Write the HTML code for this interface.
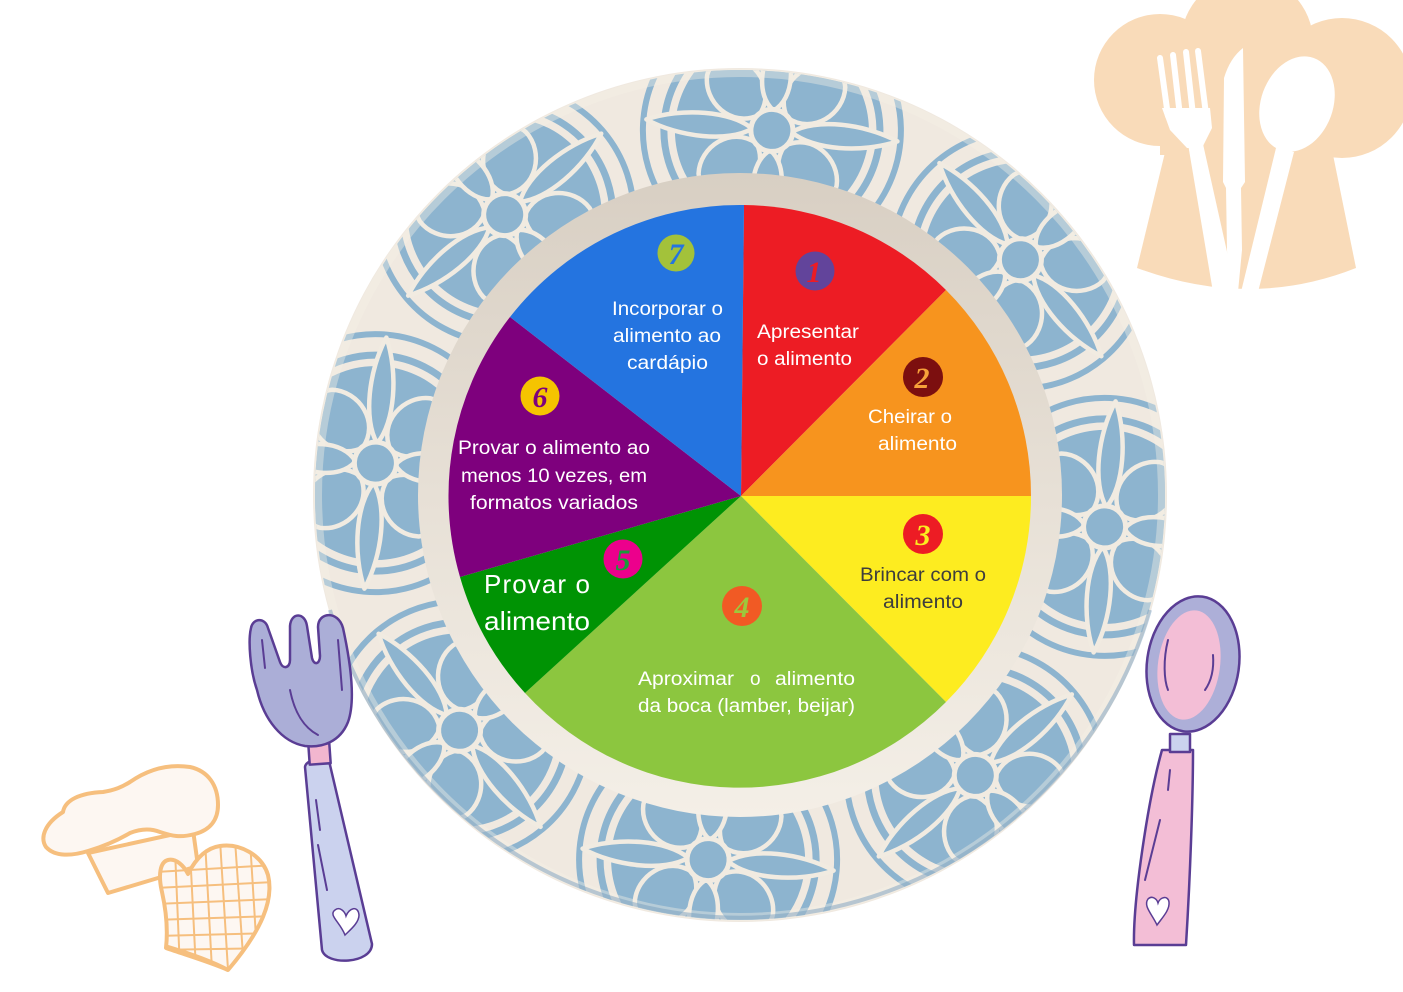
<!DOCTYPE html>
<html>
<head>
<meta charset="utf-8">
<style>
html,body{margin:0;padding:0;background:#fff;}
svg{display:block;}
.t{font-family:"Liberation Sans",sans-serif;font-size:19px;fill:#fff;}
.n{font-family:"Liberation Serif",serif;font-style:italic;font-weight:bold;font-size:30px;text-anchor:middle;}
</style>
</head>
<body>
<svg width="1403" height="992" viewBox="0 0 1403 992" xmlns="http://www.w3.org/2000/svg">
<defs>
  <clipPath id="plateClip"><circle cx="740" cy="495" r="425"/></clipPath>
  <linearGradient id="rim" x1="0" y1="0" x2="0" y2="1">
    <stop offset="0" stop-color="#d8cfc3"/>
    <stop offset="0.5" stop-color="#e7e0d6"/>
    <stop offset="1" stop-color="#f4efe7"/>
  </linearGradient>
  <g id="rings">
    <circle r="108" fill="none" stroke="#8db4cf" stroke-width="7"/>
    <circle r="129" fill="none" stroke="#8db4cf" stroke-width="6"/>
  </g>
  <g id="fl">
    <circle r="97" fill="#8db4cf"/>
    <g fill="#8db4cf" stroke="#f1ebe1" stroke-width="4.5" stroke-linejoin="round">
      <path d="M20,0 C28,-30 66,-34 84,-14 C90,-6 90,6 84,14 C66,34 28,30 20,0Z" transform="rotate(45)"/>
      <path d="M20,0 C28,-30 66,-34 84,-14 C90,-6 90,6 84,14 C66,34 28,30 20,0Z" transform="rotate(135)"/>
      <path d="M20,0 C28,-30 66,-34 84,-14 C90,-6 90,6 84,14 C66,34 28,30 20,0Z" transform="rotate(225)"/>
      <path d="M20,0 C28,-30 66,-34 84,-14 C90,-6 90,6 84,14 C66,34 28,30 20,0Z" transform="rotate(315)"/>
      <path d="M20,0 C34,-20 72,-18 96,0 C72,18 34,20 20,0Z"/>
      <path d="M20,0 C34,-20 72,-18 96,0 C72,18 34,20 20,0Z" transform="rotate(180)"/>
      <path d="M20,0 C42,-16 92,-15 126,0 C92,15 42,16 20,0Z" transform="rotate(90)"/>
      <path d="M20,0 C42,-16 92,-15 126,0 C92,15 42,16 20,0Z" transform="rotate(270)"/>
    </g>
    <circle r="21" fill="#8db4cf" stroke="#f1ebe1" stroke-width="5"/>
  </g>
  <clipPath id="gloveClip">
    <path d="M162,892 C158,875 160,862 168,860 C176,858 184,866 188,874 C196,858 206,848 220,846 C240,843 262,855 268,875 C274,900 262,930 228,970 C210,962 186,955 166,948 C168,930 166,910 162,892Z"/>
  </clipPath>
</defs>

<!-- top right chef hat logo -->
<g fill="#f9dbb9">
  <circle cx="1160" cy="80" r="66"/>
  <circle cx="1247" cy="42" r="66"/>
  <circle cx="1342" cy="88" r="70"/>
  <rect x="1160" y="40" width="185" height="115"/>
  <path d="M1168,140 L1330,140 L1356,268 Q1250,310 1137,268 Z"/>
</g>
<g fill="#fff">
  <g stroke="#fff" stroke-width="6" stroke-linecap="round">
    <line x1="1160" y1="58" x2="1168" y2="116"/>
    <line x1="1173" y1="55" x2="1180" y2="116"/>
    <line x1="1186" y1="52" x2="1193" y2="115"/>
    <line x1="1198" y1="51" x2="1206" y2="114"/>
  </g>
  <path d="M1162,108 L1210,108 L1212,128 L1202,148 L1187,148 L1170,130 Z"/>
  <path d="M1188,144 L1203,144 L1236,292 L1213,292 Z"/>
  <path d="M1224,78 Q1230,58 1243,48 L1245,182 L1241,188 L1242,250 L1238,292 L1229,292 L1227,250 L1226,188 L1223,182 Z"/>
  <ellipse cx="1297" cy="104" rx="36" ry="49" transform="rotate(20 1297 104)"/>
  <path d="M1276,148 L1294,152 L1258,292 L1241,292 Z"/>
</g>

<!-- plate -->
<circle cx="740" cy="495" r="427" fill="#f0e9e0"/>
<g clip-path="url(#plateClip)">
  <use href="#rings" transform="translate(1104.6,526.9) rotate(5)"/>
  <use href="#rings" transform="translate(975.3,775.4) rotate(50)"/>
  <use href="#rings" transform="translate(708.1,859.6) rotate(95)"/>
  <use href="#rings" transform="translate(459.6,730.3) rotate(140)"/>
  <use href="#rings" transform="translate(375.4,463.1) rotate(185)"/>
  <use href="#rings" transform="translate(504.7,214.6) rotate(230)"/>
  <use href="#rings" transform="translate(771.9,130.4) rotate(275)"/>
  <use href="#rings" transform="translate(1020.4,259.7) rotate(320)"/>
  <use href="#fl" transform="translate(1104.6,526.9) rotate(5)"/>
  <use href="#fl" transform="translate(975.3,775.4) rotate(50)"/>
  <use href="#fl" transform="translate(708.1,859.6) rotate(95)"/>
  <use href="#fl" transform="translate(459.6,730.3) rotate(140)"/>
  <use href="#fl" transform="translate(375.4,463.1) rotate(185)"/>
  <use href="#fl" transform="translate(504.7,214.6) rotate(230)"/>
  <use href="#fl" transform="translate(771.9,130.4) rotate(275)"/>
  <use href="#fl" transform="translate(1020.4,259.7) rotate(320)"/>
</g>
<circle cx="740" cy="495" r="422" fill="none" stroke="#f4efe7" stroke-opacity="0.4" stroke-width="8"/>
<path d="M330,610 A427,427 0 0,0 1150,610" fill="none" stroke="#6f98bd" stroke-opacity="0.45" stroke-width="4"/>
<circle cx="740" cy="495" r="322" fill="url(#rim)"/>

<!-- pie -->
<g>
  <path d="M741,496 L744,205 A291,291 0 0,1 946,290 Z" fill="#ed1c24"/>
  <path d="M741,496 L946,290 A291,291 0 0,1 1031,496 Z" fill="#f7941e"/>
  <path d="M741,496 L1031,496 A291,291 0 0,1 946,702 Z" fill="#fdec20"/>
  <path d="M741,496 L946,702 A291,291 0 0,1 525,693 Z" fill="#8cc63f"/>
  <path d="M741,496 L525,693 A291,291 0 0,1 460,577 Z" fill="#009304"/>
  <path d="M741,496 L460,577 A291,291 0 0,1 510,317 Z" fill="#7e007d"/>
  <path d="M741,496 L510,317 A291,291 0 0,1 744,205 Z" fill="#2474e0"/>
</g>

<!-- badges -->
<circle cx="815" cy="271" r="19.5" fill="#62449b"/>
<text class="n" x="814" y="282" fill="#ec1c24">1</text>
<circle cx="923" cy="377" r="20" fill="#7c0f0f"/>
<text class="n" x="922" y="388" fill="#f7a13a">2</text>
<circle cx="923" cy="534" r="20" fill="#ed1c24"/>
<text class="n" x="923" y="545" fill="#fcec20">3</text>
<circle cx="742" cy="606" r="20" fill="#f15a24"/>
<text class="n" x="742" y="617" fill="#9dc83c">4</text>
<circle cx="623" cy="559" r="19.5" fill="#ec008c"/>
<text class="n" x="623" y="570" fill="#1a9a3a">5</text>
<circle cx="540" cy="396" r="19.5" fill="#f5c400"/>
<text class="n" x="540" y="407" fill="#7e007d">6</text>
<circle cx="676" cy="253" r="18.5" fill="#a3c23a"/>
<text class="n" x="676" y="264" fill="#2474e0">7</text>

<!-- labels -->
<text class="t" x="612" y="315" textLength="111" lengthAdjust="spacingAndGlyphs">Incorporar o</text>
<text class="t" x="613" y="342" textLength="108" lengthAdjust="spacingAndGlyphs">alimento ao</text>
<text class="t" x="627" y="369" textLength="81" lengthAdjust="spacingAndGlyphs">cardápio</text>

<text class="t" x="757" y="338" textLength="102" lengthAdjust="spacingAndGlyphs">Apresentar</text>
<text class="t" x="757" y="365" textLength="95" lengthAdjust="spacingAndGlyphs">o alimento</text>

<text class="t" x="868" y="423" textLength="84" lengthAdjust="spacingAndGlyphs">Cheirar o</text>
<text class="t" x="878" y="450" textLength="79" lengthAdjust="spacingAndGlyphs">alimento</text>

<text class="t" x="860" y="581" textLength="126" lengthAdjust="spacingAndGlyphs" style="fill:#3d3d3d">Brincar com o</text>
<text class="t" x="883" y="608" textLength="80" lengthAdjust="spacingAndGlyphs" style="fill:#3d3d3d">alimento</text>

<text class="t" x="638" y="685" textLength="96" lengthAdjust="spacingAndGlyphs">Aproximar</text>
<text class="t" x="750" y="685">o</text>
<text class="t" x="775" y="685" textLength="80" lengthAdjust="spacingAndGlyphs">alimento</text>
<text class="t" x="638" y="712" textLength="217" lengthAdjust="spacingAndGlyphs">da boca (lamber, beijar)</text>

<text class="t" x="458" y="454" textLength="192" lengthAdjust="spacingAndGlyphs">Provar o alimento ao</text>
<text class="t" x="461" y="482" textLength="186" lengthAdjust="spacingAndGlyphs">menos 10 vezes, em</text>
<text class="t" x="470" y="509" textLength="168" lengthAdjust="spacingAndGlyphs">formatos variados</text>

<text class="t" x="484" y="593" style="font-size:26px" textLength="106" lengthAdjust="spacing">Provar o</text>
<text class="t" x="484" y="630" style="font-size:26px" textLength="106" lengthAdjust="spacingAndGlyphs">alimento</text>

<!-- fork (lower left) -->
<g stroke="#5a3d94" stroke-width="2.5" stroke-linejoin="round">
  <path d="M330,765 C329,757 306,758 305,767 L322,950 C326,966 372,964 372,944 Z" fill="#cbd2ee"/>
  <rect x="309" y="744" width="21" height="20" fill="#f2b6cf" transform="rotate(-4 319 754)"/>
  <path d="M257,690 C250,670 248,640 251,628 C253,618 265,617 268,628 L280,662 C283,670 290,668 290,660 L290,626 C291,612 305,612 307,626 L312,658 C314,666 320,664 320,656 L318,627 C318,612 338,610 343,628 C350,660 356,700 348,722 C340,742 322,748 305,746 C282,742 264,720 257,690 Z" fill="#abaed7"/>
</g>
<g fill="none" stroke="#5a3d94" stroke-width="2" stroke-linecap="round">
  <path d="M262,640 L265,668"/><path d="M338,640 L342,690"/><path d="M290,690 C295,715 305,728 318,735"/>
  <path d="M316,800 L320,830"/><path d="M318,845 L327,890"/>
</g>
<path d="M345,935 C340,922 328,915 335,910 C340,906 345,912 346,916 C349,908 358,905 359,915 C359,923 350,930 345,935 Z" fill="#fff" stroke="#5a3d94" stroke-width="1.5"/>

<!-- spoon (right) -->
<g stroke="#5a3d94" stroke-width="2.5" stroke-linejoin="round">
  <path d="M1162,750 L1193,750 C1193,800 1190,880 1186,945 L1134,945 C1133,900 1148,800 1162,750 Z" fill="#f3bed6"/>
  <rect x="1170" y="734" width="20" height="18" fill="#cbd2ee"/>
  <ellipse cx="1193" cy="664" rx="46" ry="68" fill="#adafd8" transform="rotate(8 1193 664)"/>
  <ellipse cx="1189" cy="665" rx="31" ry="55" fill="#f3bed6" stroke="none" transform="rotate(8 1189 665)"/>
</g>
<g fill="none" stroke="#5a3d94" stroke-width="2" stroke-linecap="round">
  <path d="M1168,640 C1163,660 1164,680 1168,690"/><path d="M1205,690 C1212,680 1214,668 1213,655"/>
  <path d="M1160,820 L1145,880"/><path d="M1170,770 L1168,790"/>
</g>
<path d="M1157,925 C1152,914 1143,906 1148,899 C1152,895 1157,899 1158,903 C1160,897 1168,895 1169,902 C1170,910 1162,918 1157,925 Z" fill="#fff" stroke="#5a3d94" stroke-width="1.5"/>

<!-- chef hat + glove (lower left) -->
<g stroke="#f6bf7e" stroke-width="4" stroke-linejoin="round" fill="#fdf7f2">
  <path d="M88,853 L193,830 L198,866 L108,893 Z"/>
  <path d="M63,812 C65,800 80,793 103,792 C115,790 122,787 130,782 C150,768 170,764 190,767 C208,771 218,785 218,805 C218,820 210,830 195,834 C180,838 172,836 160,832 C150,828 140,829 130,833 C118,840 105,846 88,851 C72,856 55,857 46,847 C40,838 44,824 63,812 Z"/>
  <path d="M162,892 C158,875 160,862 168,860 C176,858 184,866 188,874 C196,858 206,848 220,846 C240,843 262,855 268,875 C274,900 262,930 228,970 C210,962 186,955 166,948 C168,930 166,910 162,892Z"/>
</g>
<g clip-path="url(#gloveClip)" stroke="#f6bf7e" stroke-width="2" fill="none">
  <path d="M175,850 L180,970"/><path d="M190,850 L196,970"/><path d="M205,840 L212,970"/><path d="M220,840 L228,970"/><path d="M235,840 L244,970"/><path d="M250,840 L258,970"/>
  <path d="M155,872 L275,865"/><path d="M155,888 L275,882"/><path d="M155,904 L275,899"/><path d="M155,920 L275,916"/><path d="M155,936 L275,933"/><path d="M155,950 L275,948"/>
</g>
<path d="M165,946 C185,952 210,960 228,970" fill="none" stroke="#f6bf7e" stroke-width="4"/>
</svg>
</body>
</html>
